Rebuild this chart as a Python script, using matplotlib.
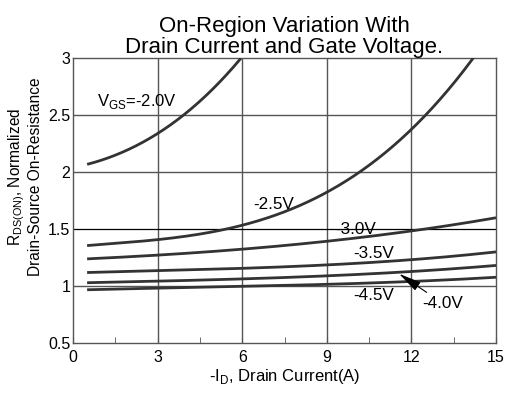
import matplotlib
matplotlib.use("Agg")
import matplotlib.pyplot as plt
import numpy as np

plt.rcParams["font.family"] = ["Liberation Sans", "DejaVu Sans"]
plt.rcParams["mathtext.fontset"] = "custom"
plt.rcParams["mathtext.rm"] = "Liberation Sans"

# ── data ─────────────────────────────────────────────────────────────────────
vgs_20_x = [0.5, 1.5, 3.0, 3.9, 5.0, 5.95]
vgs_20_y = [2.07, 2.15, 2.34, 2.50, 2.74, 3.00]

vgs_25_x = [0.5, 3.0, 4.5, 6.0, 7.7, 9.0, 10.3, 12.0, 13.0, 14.25]
vgs_25_y = [1.35, 1.42, 1.47, 1.53, 1.67, 1.81, 2.00, 2.42, 2.65, 3.00]

vgs_30_x = [0.5, 4.5, 9.0, 12.0, 15.0]
vgs_30_y = [1.24, 1.30, 1.39, 1.49, 1.60]

vgs_35_x = [0.5, 4.5, 9.0, 12.0, 15.0]
vgs_35_y = [1.12, 1.15, 1.18, 1.24, 1.30]

vgs_40_x = [0.5, 4.5, 9.0, 12.0, 15.0]
vgs_40_y = [1.03, 1.06, 1.08, 1.14, 1.18]

vgs_45_x = [0.5, 4.5, 9.0, 12.0, 15.0]
vgs_45_y = [0.97, 0.99, 1.02, 1.04, 1.08]

X_TICKS = [0, 3, 6, 9, 12, 15]
Y_TICKS = [0.5, 1, 1.5, 2, 2.5, 3]
Y_TICKLABELS = ["0.5", "1", "1.5", "2", "2.5", "3"]

CURVE = "#333333"
GRID = "#555555"
LBL = 12.3

fig = plt.figure(figsize=(5.19, 3.94), dpi=100)
ax = fig.add_axes([0.1407, 0.1287, 0.815, 0.7233])


def smooth(xs, ys):
    xx = np.linspace(xs[0], xs[-1], 200)
    p = np.polyfit(xs, ys, min(3, len(xs) - 1))
    return xx, np.polyval(p, xx)


for xs, ys in [(vgs_20_x, vgs_20_y), (vgs_25_x, vgs_25_y), (vgs_30_x, vgs_30_y),
               (vgs_35_x, vgs_35_y), (vgs_40_x, vgs_40_y), (vgs_45_x, vgs_45_y)]:
    xx, yy = smooth(xs, ys)
    ax.plot(xx, yy, color=CURVE, linewidth=2.0, solid_capstyle="butt", zorder=3)

ax.set_xlim(0, 15)
ax.set_ylim(0.5, 3)
ax.set_xticks(X_TICKS)
ax.set_xticks([1.5, 4.5, 7.5, 10.5, 13.5], minor=True)
ax.set_yticks(Y_TICKS)
ax.set_yticklabels(Y_TICKLABELS)
ax.tick_params(axis="x", which="major", direction="in", length=4, color=GRID,
               labelsize=11.5, pad=5)
ax.tick_params(axis="x", which="minor", direction="in", length=4, color=GRID)
ax.tick_params(axis="y", length=0, labelsize=11.5, pad=2)

for v in [3, 6, 9, 12]:
    ax.axvline(v, color=GRID, linewidth=1.0, zorder=1)
for v in [1, 2, 2.5]:
    ax.axhline(v, color=GRID, linewidth=1.0, zorder=1)
ax.axhline(1.5, color="black", linewidth=0.9, zorder=1)

for s in ax.spines.values():
    s.set_color(GRID)
    s.set_linewidth(1.0)

ax.set_xlabel(r"-I$_{\mathregular{D}}$, Drain Current(A)", fontsize=12, labelpad=1)
ax.set_ylabel("R$_{\\mathregular{DS(ON)}}$, Normalized\nDrain-Source On-Resistance",
              fontsize=11.2, linespacing=1.1)
ax.yaxis.set_label_coords(-0.071, 0.585)
ax.set_title("On-Region Variation With\nDrain Current and Gate Voltage.",
             fontsize=16, pad=3, linespacing=1.0)

ax.text(0.85, 2.62, r"V$_{\mathregular{GS}}$=-2.0V", fontsize=12, va="center")
ax.text(6.4, 1.72, "-2.5V", fontsize=LBL, va="center")
ax.text(9.3, 1.50, "-3.0V", fontsize=LBL, va="center")
ax.text(9.93, 1.29, "-3.5V", fontsize=LBL, va="center")
ax.text(9.93, 0.92, "-4.5V", fontsize=LBL, va="center")
ax.annotate("-4.0V", xy=(11.56, 1.11), xytext=(12.4, 0.85), fontsize=LBL,
            va="center", ha="left",
            arrowprops=dict(arrowstyle="-|>,head_length=1.4,head_width=0.3",
                            color="black", lw=0.8,
                            shrinkA=1, shrinkB=0, mutation_scale=10))

fig.savefig("out.png", dpi=100)
